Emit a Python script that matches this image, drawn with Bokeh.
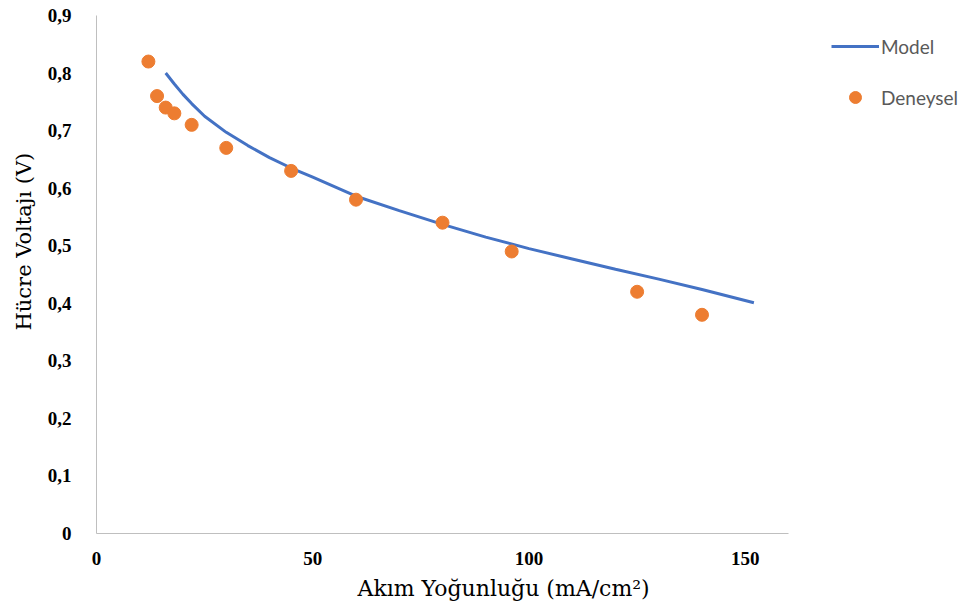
from bokeh.plotting import figure
from bokeh.models import (Range1d, FixedTicker, CustomJSTickFormatter, Legend, LegendItem, Title)
from bokeh.embed import file_html
from bokeh.resources import INLINE

# Data
model_x = [16, 18, 20, 22, 25, 30, 35, 40, 45, 50, 60, 70, 80, 90, 100, 110, 120, 130, 140, 152]
model_y = [0.80, 0.781, 0.763, 0.747, 0.725, 0.697, 0.674, 0.653, 0.635, 0.619, 0.586, 0.561, 0.537, 0.515, 0.495, 0.477, 0.459, 0.442, 0.424, 0.401]
exp_x = [12, 14, 16, 18, 22, 30, 45, 60, 80, 96, 125, 140]
exp_y = [0.82, 0.76, 0.74, 0.73, 0.71, 0.67, 0.63, 0.58, 0.54, 0.49, 0.42, 0.38]
x_ticks = [0, 50, 100, 150]
y_ticks = [0, 0.1, 0.2, 0.3, 0.4, 0.5, 0.6, 0.7, 0.8, 0.9]

p = figure(frame_width=692, frame_height=518, output_backend="svg", toolbar_location=None,
           x_range=Range1d(0, 160), y_range=Range1d(0, 0.9),
           min_border_left=96, min_border_right=172, min_border_top=15, min_border_bottom=71)
p.outline_line_color = None
p.xgrid.grid_line_color = None
p.ygrid.grid_line_color = None

ln = p.line(model_x, model_y, line_color="#4472C4", line_width=3)
sc = p.scatter(exp_x, exp_y, size=13, fill_color="#ED7D31", line_color="#ED7D31")

for ax in (p.xaxis[0], p.yaxis[0]):
    ax.axis_line_color = "#BFBFBF"
    ax.axis_line_width = 1
    ax.major_tick_line_color = None
    ax.minor_tick_line_color = None
    ax.major_label_text_font = "Liberation Serif"
    ax.major_label_text_font_style = "bold"
    ax.major_label_text_font_size = "19px"
    ax.major_label_text_color = "#000000"

p.xaxis.ticker = FixedTicker(ticks=x_ticks)
p.yaxis.ticker = FixedTicker(ticks=y_ticks)
p.yaxis.formatter = CustomJSTickFormatter(code="return Math.abs(tick) < 1e-9 ? '0' : tick.toFixed(1).replace('.', ',');")
p.xaxis.major_label_standoff = 12
p.yaxis.major_label_standoff = 19

yt = Title(text="Hücre Voltajı (V)", align="left", offset=203, standoff=17,
           text_font="DejaVu Serif", text_font_size="21px", text_font_style="normal",
           text_color="#000000")
p.add_layout(yt, "left")

xt = Title(text="Akım Yoğunluğu (mA/cm²)", align="left", offset=261, standoff=13,
           text_font="DejaVu Serif", text_font_size="22px", text_font_style="normal",
           text_color="#000000")
p.add_layout(xt, "below")

legend = Legend(items=[LegendItem(label="Model", renderers=[ln]),
                       LegendItem(label="Deneysel", renderers=[sc])],
                location=(43, 421), padding=0, margin=0, spacing=21,
                glyph_width=48, glyph_height=30, label_height=30, label_standoff=2,
                label_text_font="Lato", label_text_font_size="19px", label_text_color="#595959",
                border_line_color=None, background_fill_alpha=0)
p.add_layout(legend, "right")

open("out.html", "w").write(file_html(p, INLINE))
